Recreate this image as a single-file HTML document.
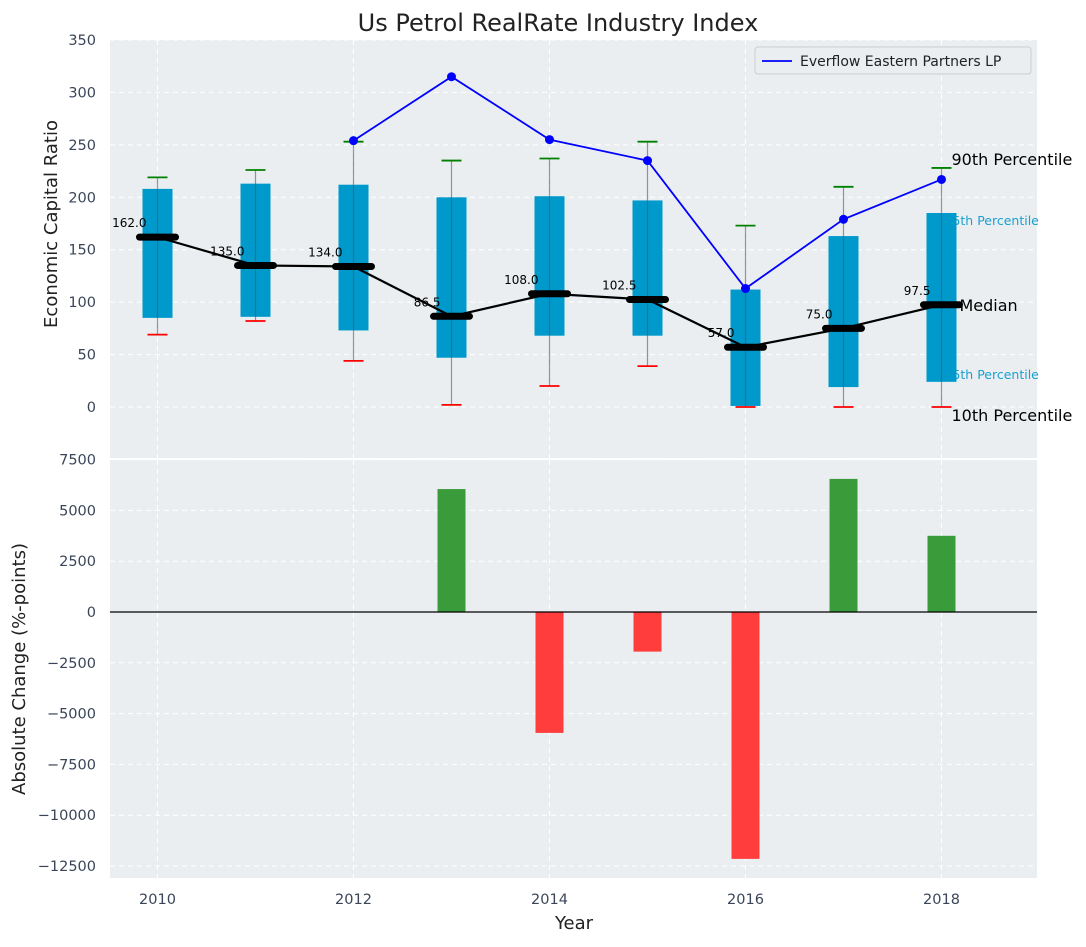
<!DOCTYPE html>
<html><head><meta charset="utf-8"><style>
body{margin:0;background:#fff}
svg text{font-family:"DejaVu Sans","Liberation Sans",sans-serif}
</style></head><body>
<svg id="c" width="1086" height="942" xmlns="http://www.w3.org/2000/svg"></svg>
<script>
const years=[2010,2011,2012,2013,2014,2015,2016,2017,2018];
const p10=[69,82,44,2,20,39,0,0,0];
const q1=[85,86,73,47,68,68,1,19,24];
const med=[162,135,134,86.5,108,102.5,57,75,97.5];
const q3=[208,213,212,200,201,197,112,163,185];
const p90=[219,226,253,235,237,253,173,210,228];
const compYears=[2012,2013,2014,2015,2016,2017,2018];
const compVals=[254,315,255,235,113,179,217];
const changes=[0,0,0,6050,-5950,-1950,-12150,6550,3750];
const topTicks=[0,50,100,150,200,250,300,350];
const botTicks=[-12500,-10000,-7500,-5000,-2500,0,2500,5000,7500];
const xTicks=[2010,2012,2014,2016,2018];

const NS="http://www.w3.org/2000/svg",svg=document.getElementById('c');
function el(t,a,p){const e=document.createElementNS(NS,t);for(const k in a)e.setAttribute(k,a[k]);(p||svg).appendChild(e);return e;}
const X=v=>157.5+(v-2010)*98;
const Y1=v=>407-v*1.0486;
const Y2=v=>612-v*0.02032;
const L=110,R=1037;
let bg1=el('rect',{x:L,y:40,width:R-L,height:418,fill:'#eaeef0'});

let bg2=el('rect',{x:L,y:460,width:R-L,height:418,fill:'#eaeef0'});

const grid={stroke:'#fff','stroke-dasharray':'5,4','stroke-width':1};
topTicks.forEach(t=>{el('line',Object.assign({x1:L,x2:R,y1:Y1(t),y2:Y1(t)},grid));
 const tx=el('text',{x:96,y:Y1(t)+5,'text-anchor':'end','font-size':14.5,fill:'#3a4658'});tx.textContent=t;
 });
botTicks.forEach(t=>{el('line',Object.assign({x1:L,x2:R,y1:Y2(t),y2:Y2(t)},grid));
 const tx=el('text',{x:96,y:Y2(t)+5,'text-anchor':'end','font-size':14.5,fill:'#3a4658'});tx.textContent=t<0?'\u2212'+(-t):t;
 });
xTicks.forEach(t=>{el('line',Object.assign({x1:X(t),x2:X(t),y1:40,y2:458},grid));el('line',Object.assign({x1:X(t),x2:X(t),y1:460,y2:878},grid));
 const tx=el('text',{x:X(t),y:904,'text-anchor':'middle','font-size':14.5,fill:'#3a4658'});tx.textContent=t;
 });
// annotation small labels (drawn under boxes)
const ax=X(2018);
[['75th Percentile',Y1(q3[8])+12],['25th Percentile',Y1(q1[8])-3]].forEach(a=>{
 const t=el('text',{x:ax+3,y:a[1],'font-size':12.5,fill:'#1aa0d0'});t.textContent=a[0];
 });
years.forEach((yr,i)=>{const x=X(yr);
 const b=el('rect',{x:x-15,y:Y1(q3[i]),width:30,height:Y1(q1[i])-Y1(q3[i]),fill:'#0099cc'});
 
 el('line',{x1:x,x2:x,y1:Y1(p90[i]),y2:Y1(p10[i]),stroke:'#555','stroke-opacity':0.6,'stroke-width':1.2});
 el('line',{x1:x-10,x2:x+10,y1:Y1(p90[i]),y2:Y1(p90[i]),stroke:'green','stroke-width':1.8});
 el('line',{x1:x-10,x2:x+10,y1:Y1(p10[i]),y2:Y1(p10[i]),stroke:'red','stroke-width':1.8});
});
let mp=el('polyline',{points:years.map((y,i)=>X(y)+','+Y1(med[i])).join(' '),fill:'none',stroke:'#000','stroke-width':2.2});

years.forEach((yr,i)=>{const x=X(yr);
 el('line',{x1:x-18,x2:x+18,y1:Y1(med[i]),y2:Y1(med[i]),stroke:'#000','stroke-width':7,'stroke-linecap':'round'});
 const t=el('text',{x:x-11,y:Y1(med[i])-10,'text-anchor':'end','font-size':12,fill:'#000'});t.textContent=med[i].toFixed(1);
 
});
let cl=el('polyline',{points:compYears.map((y,i)=>X(y)+','+Y1(compVals[i])).join(' '),fill:'none',stroke:'blue','stroke-width':1.8});

compYears.forEach((y,i)=>{const c=el('circle',{cx:X(y),cy:Y1(compVals[i]),r:4.5,fill:'blue'});
 });
[['90th Percentile',ax+10,Y1(p90[8])-3],['Median',ax+18,Y1(med[8])+6],['10th Percentile',ax+10,Y1(p10[8])+14]].forEach(a=>{
 const t=el('text',{x:a[1],y:a[2],'font-size':16,fill:'#000'});t.textContent=a[0];
 });
const lg=el('g',{});
el('rect',{x:755,y:47,width:276,height:27,fill:'#eaeef0',stroke:'#ccc',rx:3},lg);
el('line',{x1:762,x2:792,y1:61,y2:61,stroke:'blue','stroke-width':1.8},lg);
const lt=el('text',{x:800,y:66,'font-size':14,fill:'#222'},lg);lt.textContent='Everflow Eastern Partners LP';
years.forEach((yr,i)=>{if(!changes[i])return;const v=changes[i];
 const b=el('rect',{x:X(yr)-14,y:Math.min(Y2(v),Y2(0)),width:28,height:Math.abs(Y2(v)-Y2(0)),fill:v>0?'#3a9b3a':'#ff3d3d'});
 });
el('line',{x1:L,x2:R,y1:Y2(0),y2:Y2(0),stroke:'#000','stroke-width':1.2});
let t=el('text',{x:558,y:31,'text-anchor':'middle','font-size':24,fill:'#222'});t.textContent='Us Petrol RealRate Industry Index';

t=el('text',{x:574,y:929,'text-anchor':'middle','font-size':18,fill:'#222'});t.textContent='Year';

t=el('text',{x:0,y:0,'text-anchor':'middle','font-size':18,fill:'#222',transform:'translate(57,224) rotate(-90)'});t.textContent='Economic Capital Ratio';

t=el('text',{x:0,y:0,'text-anchor':'middle','font-size':18,fill:'#222',transform:'translate(25,669) rotate(-90)'});t.textContent='Absolute Change (%-points)';

</script>
</body></html>
